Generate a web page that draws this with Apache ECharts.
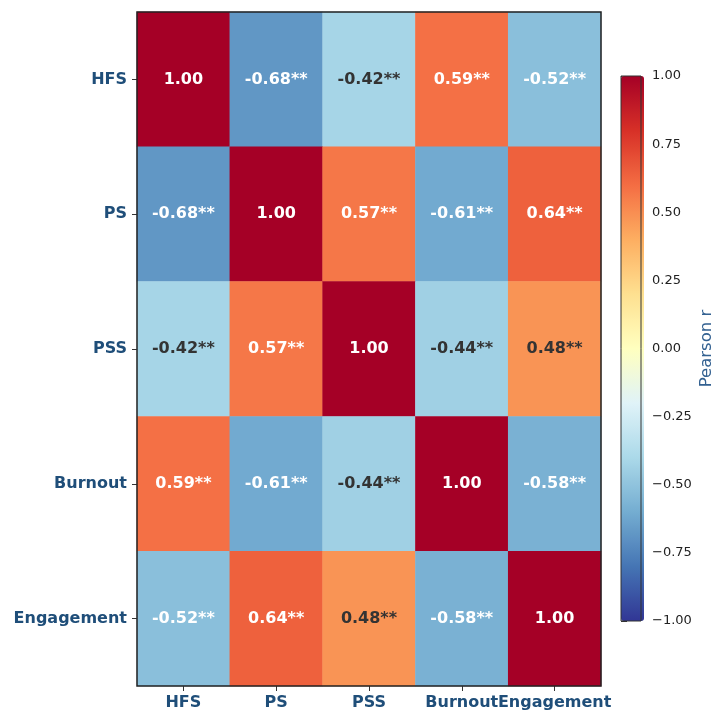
<!DOCTYPE html>
<html>
<head>
<meta charset="utf-8">
<script src="https://cdn.jsdelivr.net/npm/echarts@6/dist/echarts.min.js"></script>
<style>
  html, body { margin: 0; padding: 0; background: #fff; }
  #chart { width: 716px; height: 715px; }
</style>
</head>
<body>
<div id="chart"></div>
<script>
var variables = ['HFS', 'PS', 'PSS', 'Burnout', 'Engagement'];
var corr = [
  [1.00, -0.68, -0.42, 0.59, -0.52],
  [-0.68, 1.00, 0.57, -0.61, 0.64],
  [-0.42, 0.57, 1.00, -0.44, 0.48],
  [0.59, -0.61, -0.44, 1.00, -0.58],
  [-0.52, 0.64, 0.48, -0.58, 1.00]
];
var stars = [
  ['', '**', '**', '**', '**'],
  ['**', '', '**', '**', '**'],
  ['**', '**', '', '**', '**'],
  ['**', '**', '**', '', '**'],
  ['**', '**', '**', '**', '']
];
// RdYlBu reversed
var cmap = ['#313695', '#4575b4', '#74add1', '#abd9e9', '#e0f3f8', '#ffffbf',
            '#fee090', '#fdae61', '#f46d43', '#d73027', '#a50026'];

var labelBlue = '#1f4e79';

var cells = [];
for (var i = 0; i < corr.length; i++) {
  for (var j = 0; j < corr[i].length; j++) {
    var v = corr[i][j];
    cells.push({
      value: [j, i, v],
      label: { color: Math.abs(v) >= 0.5 ? '#ffffff' : '#333333' }
    });
  }
}

var chart = echarts.init(document.getElementById('chart'));
var option = {
  backgroundColor: '#fff',
  animation: false,
  textStyle: { fontFamily: 'DejaVu Sans' },
  grid: [
    { left: 137, top: 12, width: 464, height: 674, show: true, z: 3,
      backgroundColor: 'transparent', borderColor: '#222', borderWidth: 1.5 },
    { left: 621, top: 76, width: 23, height: 545, show: true, z: 10,
      backgroundColor: 'transparent', borderColor: '#333', borderWidth: 1 }
  ],
  xAxis: [
    {
      type: 'category', gridIndex: 0, data: variables,
      axisLine: { show: false },
      axisTick: { show: true, alignWithLabel: true, length: 5, lineStyle: { color: '#333' } },
      axisLabel: { color: labelBlue, fontWeight: 'bold', fontSize: 16, margin: 9, interval: 0 },
      splitLine: { show: false }
    },
    { type: 'value', gridIndex: 1, show: false, min: 0, max: 1 }
  ],
  yAxis: [
    {
      type: 'category', gridIndex: 0, data: variables, inverse: true,
      axisLine: { show: false },
      axisTick: { show: true, alignWithLabel: true, length: 5, lineStyle: { color: '#333' } },
      axisLabel: { color: labelBlue, fontWeight: 'bold', fontSize: 16, margin: 10, interval: 0 },
      splitLine: { show: false }
    },
    {
      type: 'value', gridIndex: 1, position: 'right', min: -1, max: 1, interval: 0.25,
      axisLine: { show: false },
      axisTick: { show: true, length: 6, lineStyle: { color: '#333' } },
      axisLabel: {
        color: '#222', fontSize: 13, margin: 11,
        formatter: function (v) { return (v < 0 ? '\u2212' : '') + Math.abs(v).toFixed(2); }
      },
      splitLine: { show: false },
      name: 'Pearson r', nameLocation: 'middle', nameRotate: 90, nameGap: 57,
      nameTextStyle: { color: '#336191', fontSize: 16.5 }
    }
  ],
  visualMap: {
    type: 'continuous', min: -1, max: 1, calculable: false, show: true,
    orient: 'vertical', left: 621, top: 76, padding: 0,
    itemWidth: 23, itemHeight: 545, text: null, showLabel: false,
    inRange: { color: cmap }, seriesIndex: 0, hoverLink: false
  },
  series: [{
    type: 'heatmap', xAxisIndex: 0, yAxisIndex: 0,
    data: cells,
    label: {
      show: true, fontSize: 16, fontWeight: 'bold',
      formatter: function (p) {
        var v = p.value[2];
        return v.toFixed(2) + stars[p.value[1]][p.value[0]];
      }
    },
    itemStyle: { borderWidth: 0 }
  }]
};
chart.setOption(option);
</script>
</body>
</html>
